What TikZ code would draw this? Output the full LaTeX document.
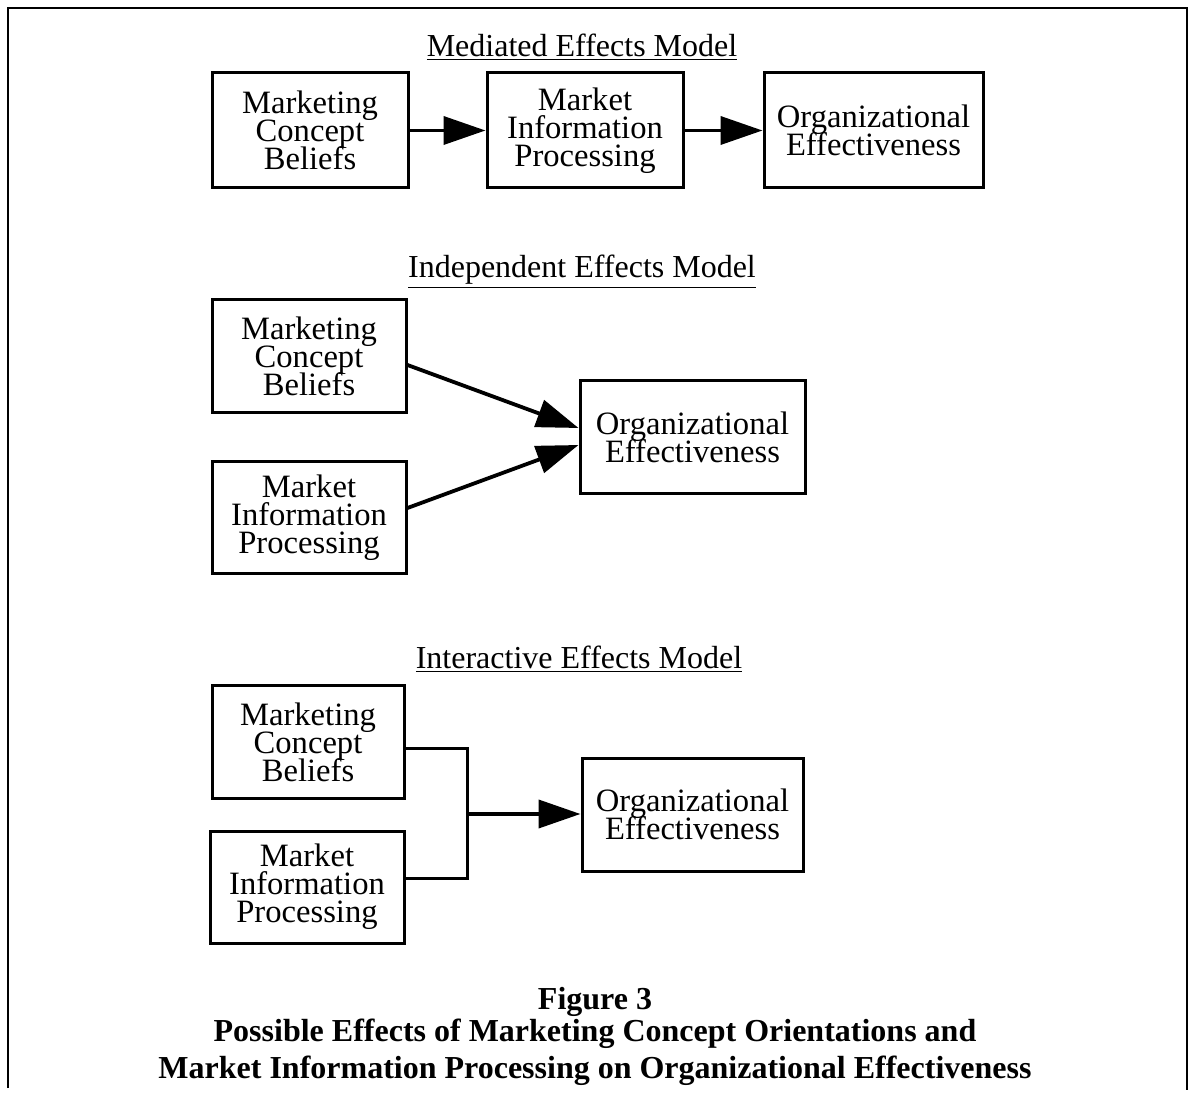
\documentclass[tikz,border=0pt]{standalone}
\usepackage{fontspec}
\setmainfont{Liberation Serif}
\usetikzlibrary{arrows.meta,calc}
% box text: tight, fixed leading
\newcommand\boxtextfont{\fontsize{16.3pt}{14pt}\selectfont\lineskiplimit=-20pt\relax\lineskip=0pt\relax}
\begin{document}
\begin{tikzpicture}[x=0.5pt,y=-0.5pt,
  box/.style={draw,line width=1.5pt,align=center,inner sep=0pt,font=\boxtextfont},
  heading/.style={inner sep=0pt,font=\fontsize{16pt}{16pt}\selectfont},
  link/.style={line width=1.9pt,-{Triangle[length=21pt,width=14pt]}},
  wire/.style={line width=1.5pt},
  caption/.style={inner sep=0pt,font=\bfseries\fontsize{16pt}{18pt}\selectfont}]
\useasboundingbox (0,0) rectangle (1190,1101);
% open frame around the figure
\draw[line width=1.1pt] (8,1088) -- (8,8) -- (1187,8) -- (1187,1090);

% --- mediated effects model
\node[heading] (t1) at (582,47) {\underline{Mediated Effects Model}};
\node[box,minimum width=98pt,minimum height=57.5pt] (m1) at (310,130.5)
  {Marketing\\Concept\\Beliefs};
\node[box,minimum width=98pt,minimum height=57.5pt] (m2) at (585,130.5)
  {Market\\Information\\Processing};
\node[box,minimum width=109.5pt,minimum height=57.5pt] (m3) at (873.5,130.5)
  {Organizational\\Effectiveness};
\draw[link] (m1.east) -- (m2.west);
\draw[link] (m2.east) -- (m3.west);

% --- independent effects model
\node[heading] (t2) at (582,272) {\underline{Independent Effects Model}};
\node[box,minimum width=97pt,minimum height=56.5pt] (i1) at (309,356.5)
  {Marketing\\Concept\\Beliefs};
\node[box,minimum width=97pt,minimum height=56pt] (i2) at (309,518)
  {Market\\Information\\Processing};
\node[box,minimum width=112.5pt,minimum height=56.5pt] (i3) at (692.5,437.5)
  {Organizational\\Effectiveness};
\draw[link] ($(i1.east)+(0,8.5)$) -- ($(i3.west)+(0,-9.5)$);
\draw[link] ($(i2.east)+(0,-10)$) -- ($(i3.west)+(0,7.5)$);

% --- interactive effects model
\node[heading] (t3) at (579,659) {\underline{Interactive Effects Model}};
\node[box,minimum width=96pt,minimum height=56pt] (n1) at (308,742)
  {Marketing\\Concept\\Beliefs};
\node[box,minimum width=97pt,minimum height=56pt] (n2) at (307,887)
  {Market\\Information\\Processing};
\node[box,minimum width=110.5pt,minimum height=56.5pt] (n3) at (692.5,814.5)
  {Organizational\\Effectiveness};
\coordinate (j) at (467,814);
\draw[wire] ($(n1.east)+(0,7)$) -| ($(j)+(0,64)$) -- ($(n2.east)+(0,-9)$);
\draw[link] (j) -- (n3.west |- j);

% --- caption
\node[caption] (c1) at (595,1002) {Figure 3};
\node[caption] (c2) at (595,1034)
  {Possible Effects of Marketing Concept Orientations and};
\node[caption] (c3) at (595,1071)
  {Market Information Processing on Organizational Effectiveness};
\end{tikzpicture}
\end{document}
